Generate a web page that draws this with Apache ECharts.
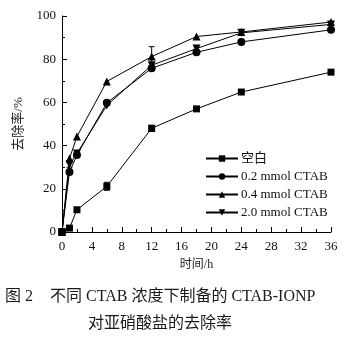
<!DOCTYPE html>
<html>
<head>
<meta charset="utf-8">
<script src="https://cdn.jsdelivr.net/npm/echarts@6/dist/echarts.min.js"></script>
<style>
  html, body { margin: 0; padding: 0; background: #fff; }
  #chart { width: 346px; height: 340px; }
</style>
</head>
<body>
<div id="chart"></div>
<script>
// Sampling times (h) and removal rates (%) for each CTAB dosage
const times = [0, 1, 2, 6, 12, 18, 24, 36];
const blank = [0, 1.8, 10.3, 21.1, 48, 57, 64.8, 74];
const ctab02 = [0, 27.8, 35.6, 59.8, 75.8, 83.2, 88, 93.6];
const ctab04 = [0, 34, 44.2, 69.7, 81.2, 90.5, 92.6, 97.2];
const ctab20 = [0, 31.2, 36.4, 58.6, 77.2, 84.9, 92.2, 96.1];
const seriesNames = ['空白', '0.2 mmol CTAB', '0.4 mmol CTAB', '2.0 mmol CTAB'];
// Error bars: [time, low, high]
const errorBars = [
  [6, 19.3, 23.0],
  [12, 46.6, 49.4],
  [12, 77.0, 85.8],
  [1, 30.0, 33.0]
];
const xTicks = { min: 0, max: 36, step: 4 };
const yTicks = { min: 0, max: 100, step: 20 };

const latin = '"Liberation Serif", "Noto Sans CJK SC", serif';
const downTri = 'path://M0,0 L10,0 L5,9 Z';

const chart = echarts.init(document.getElementById('chart'), null, { renderer: 'canvas' });

function lineSeries(name, values, symbol, size) {
  return {
    name: name,
    type: 'line',
    data: times.map((t, i) => [t, values[i]]),
    symbol: symbol,
    symbolSize: size,
    showAllSymbol: true,
    lineStyle: { color: '#000', width: 1 },
    itemStyle: { color: '#000' },
    z: 3
  };
}

chart.setOption({
  animation: false,
  backgroundColor: '#fff',
  grid: { left: 62, right: 15, top: 16, bottom: 108 },
  xAxis: {
    type: 'value',
    min: xTicks.min, max: xTicks.max, interval: xTicks.step,
    name: '时间/h', nameLocation: 'middle', nameGap: 27,
    nameTextStyle: { color: '#222', fontSize: 12, fontFamily: latin },
    axisLine: { lineStyle: { color: '#000', width: 1 } },
    axisTick: { inside: true, length: 5, lineStyle: { color: '#000' } },
    minorTick: { show: true, splitNumber: 2, length: 3, lineStyle: { color: '#000' } },
    axisLabel: { color: '#111', fontSize: 13, fontFamily: latin, margin: 8 },
    splitLine: { show: false }
  },
  yAxis: {
    type: 'value',
    min: yTicks.min, max: yTicks.max, interval: yTicks.step,
    name: '去除率/%', nameLocation: 'middle', nameGap: 37,
    nameTextStyle: { color: '#222', fontSize: 13, fontFamily: latin },
    axisLine: { show: true, lineStyle: { color: '#000', width: 1 } },
    axisTick: { show: true, inside: true, length: 5, lineStyle: { color: '#000' } },
    minorTick: { show: true, splitNumber: 2, length: 3, lineStyle: { color: '#000' } },
    axisLabel: { color: '#111', fontSize: 13, fontFamily: latin, margin: 6 },
    splitLine: { show: false }
  },
  legend: {
    orient: 'vertical',
    left: 200, top: 147,
    itemWidth: 32, itemHeight: 8, itemGap: 5,
    textStyle: { color: '#111', fontSize: 13, fontFamily: latin, padding: [0, 0, 0, -2] },
    data: seriesNames
  },
  series: [
    lineSeries(seriesNames[0], blank, 'rect', 7),
    lineSeries(seriesNames[1], ctab02, 'circle', 8),
    lineSeries(seriesNames[2], ctab04, 'triangle', 8),
    lineSeries(seriesNames[3], ctab20, downTri, 8),
    {
      type: 'custom',
      data: errorBars,
      silent: true,
      z: 2,
      renderItem: function (params, api) {
        const x = api.value(0);
        const lo = api.coord([x, api.value(1)]);
        const hi = api.coord([x, api.value(2)]);
        const w = 3;
        const st = { stroke: '#000', lineWidth: 1 };
        return {
          type: 'group',
          children: [
            { type: 'line', shape: { x1: lo[0], y1: lo[1], x2: hi[0], y2: hi[1] }, style: st },
            { type: 'line', shape: { x1: lo[0] - w, y1: lo[1], x2: lo[0] + w, y2: lo[1] }, style: st },
            { type: 'line', shape: { x1: hi[0] - w, y1: hi[1], x2: hi[0] + w, y2: hi[1] }, style: st }
          ]
        };
      }
    }
  ],
  graphic: [
    {
      type: 'text', left: 5, top: 289,
      style: {
        text: '图 2 ',
        fill: '#1a1a1a', fontSize: 16, fontFamily: latin
      }
    },
    {
      type: 'text', left: 50, top: 289,
      style: {
        text: '不同 CTAB 浓度下制备的 CTAB-IONP',
        fill: '#1a1a1a', fontSize: 16, fontFamily: latin
      }
    },
    {
      type: 'text', left: 88, top: 316,
      style: {
        text: '对亚硝酸盐的去除率',
        fill: '#1a1a1a', fontSize: 16, fontFamily: latin
      }
    }
  ]
});
</script>
</body>
</html>
